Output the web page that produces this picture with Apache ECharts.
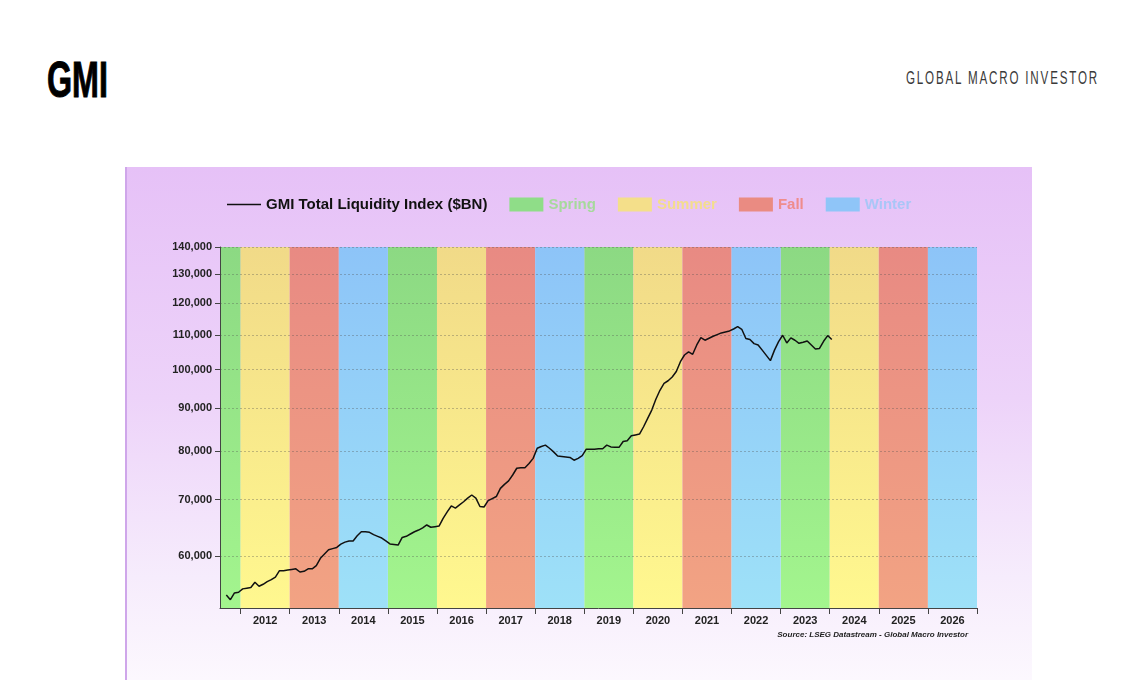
<!DOCTYPE html>
<html>
<head>
<meta charset="utf-8">
<script src="https://cdn.jsdelivr.net/npm/echarts@6/dist/echarts.min.js"></script>
<style>
  html, body { margin: 0; padding: 0; background: #ffffff; width: 1140px; height: 694px; overflow: hidden; }
  #panel { position: absolute; left: 125px; top: 167px; width: 907px; height: 513px;
    background: linear-gradient(to bottom, #e6c1f7 0%, #edd3f9 45%, #f6ecfc 80%, #fcf8fe 100%);
    border-left: 2px solid #cfa6ea; box-sizing: border-box; }
  #chart { position: absolute; left: 0; top: 0; width: 1140px; height: 694px; }
  #logo { position: absolute; left: 47px; top: 55px; font: bold 50px "Liberation Sans Narrow", "Liberation Sans", sans-serif;
    line-height: 50px; color: #000; -webkit-text-stroke: 1px #000; transform: scaleX(0.645); transform-origin: left top; white-space: nowrap; }
  #brand { position: absolute; left: 906px; top: 68px; font: 19px "Liberation Sans Narrow", "Liberation Sans", sans-serif;
    line-height: 19px; color: #3a3a3a; letter-spacing: 3px; transform: scaleX(0.61); transform-origin: left top; white-space: nowrap; }
</style>
</head>
<body>
<div id="panel"></div>
<div id="logo">GMI</div>
<div id="brand">GLOBAL MACRO INVESTOR</div>
<div id="chart"></div>
<script>
// ---- data ----
const dates = ['2011-09','2011-10','2011-11','2011-12',
'2012-01','2012-02','2012-03','2012-04','2012-05','2012-06','2012-07','2012-08','2012-09','2012-10','2012-11','2012-12',
'2013-01','2013-02','2013-03','2013-04','2013-05','2013-06','2013-07','2013-08','2013-09','2013-10','2013-11','2013-12',
'2014-01','2014-02','2014-03','2014-04','2014-05','2014-06','2014-07','2014-08','2014-09','2014-10','2014-11','2014-12',
'2015-01','2015-02','2015-03','2015-04','2015-05','2015-06','2015-07','2015-08','2015-09','2015-10','2015-11','2015-12',
'2016-01','2016-02','2016-03','2016-04','2016-05','2016-06','2016-07','2016-08','2016-09','2016-10','2016-11','2016-12',
'2017-01','2017-02','2017-03','2017-04','2017-05','2017-06','2017-07','2017-08','2017-09','2017-10','2017-11','2017-12',
'2018-01','2018-02','2018-03','2018-04','2018-05','2018-06','2018-07','2018-08','2018-09','2018-10','2018-11','2018-12',
'2019-01','2019-02','2019-03','2019-04','2019-05','2019-06','2019-07','2019-08','2019-09','2019-10','2019-11','2019-12',
'2020-01','2020-02','2020-03','2020-04','2020-05','2020-06','2020-07','2020-08','2020-09','2020-10','2020-11','2020-12',
'2021-01','2021-02','2021-03','2021-04','2021-05','2021-06','2021-07','2021-08','2021-09','2021-10','2021-11','2021-12',
'2022-01','2022-02','2022-03','2022-04','2022-05','2022-06','2022-07','2022-08','2022-09','2022-10','2022-11','2022-12',
'2023-01','2023-02','2023-03','2023-04','2023-05','2023-06','2023-07','2023-08','2023-09','2023-10','2023-11','2023-12',
'2024-01'];
const liquidity = [53900,53200,54200,54300,
54800,54900,55000,55800,55200,55500,55900,56200,56600,57600,57600,57700,
57800,57900,57400,57500,57900,57900,58400,59600,60300,61000,61200,61400,
61950,62300,62500,62500,63400,64100,64100,64000,63600,63300,63000,62500,
62000,61900,61800,63100,63300,63700,64100,64400,64800,65300,64900,65000,
65100,66500,67700,68800,68400,69000,69600,70300,70900,70300,68700,68600,
69800,70200,70600,72200,73000,73700,74900,76300,76400,76400,77300,78400,
80600,81000,81300,80600,79800,78900,78800,78700,78600,78000,78400,79000,
80400,80400,80400,80500,80500,81300,80900,80800,80800,82100,82300,83400,
83600,83800,85500,87500,89500,92200,94500,96300,97000,98000,99500,102200,
104100,105000,104300,107000,109200,108400,109000,109600,110100,110600,110900,111200,
111800,112500,111700,108900,108600,107400,107000,105500,104000,102500,105500,108000,
109900,107600,109100,108400,107500,107800,108200,107000,105800,106000,108100,109800,
108600];
const yTicks = [60000, 70000, 80000, 90000, 100000, 110000, 120000, 130000, 140000];
const yMin = 52000, yMax = 140000;
const xStart = 2011.58, xEnd = 2027;
const yearTicks = [2012,2013,2014,2015,2016,2017,2018,2019,2020,2021,2022,2023,2024,2025,2026,2027];
const yearLabels = [2012,2013,2014,2015,2016,2017,2018,2019,2020,2021,2022,2023,2024,2025,2026];
const springYears = [2011, 2015, 2019, 2023];
const summerYears = [2012, 2016, 2020, 2024];
const fallYears   = [2013, 2017, 2021, 2025];
const winterYears = [2014, 2018, 2022, 2026];

// ---- build ----
const lg = Math.log10;
const lineData = dates.map((d, i) => {
  const [y, m] = d.split('-').map(Number);
  return [y + (m - 0.5) / 12, lg(liquidity[i])];
});

function bandSeries(name, years, solid, top, bottom) {
  return {
    name: name, type: 'custom', z: 1, silent: true,
    itemStyle: { color: solid },
    data: years.map(y => [y, lg(yMin)]),
    encode: { x: 0, y: 1 },
    renderItem: function (params, api) {
      const cs = params.coordSys;
      const yr = api.value(0);
      let x1 = api.coord([yr, lg(yMin)])[0];
      let x2 = api.coord([yr + 1, lg(yMin)])[0];
      x1 = Math.max(x1, cs.x);
      x2 = Math.min(x2, cs.x + cs.width);
      if (x2 <= x1) return null;
      return {
        type: 'rect',
        shape: { x: x1, y: cs.y, width: x2 - x1, height: cs.height },
        style: { fill: new echarts.graphic.LinearGradient(0, 0, 0, 1, [
          { offset: 0, color: top }, { offset: 1, color: bottom }]) }
      };
    }
  };
}

const chart = echarts.init(document.getElementById('chart'), null, { renderer: 'canvas' });
const FONT = '"Liberation Sans", Arial, sans-serif';
chart.setOption({
  animation: false,
  backgroundColor: 'transparent',
  textStyle: { fontFamily: FONT },
  grid: { left: 220, right: 163, top: 247, bottom: 86, containLabel: false },
  legend: {
    left: 222, top: 192, itemWidth: 34, itemHeight: 14, itemGap: 22,
    textStyle: { fontFamily: FONT, fontSize: 15, fontWeight: 'bold', color: '#111' },
    data: [
      { name: 'GMI Total Liquidity Index ($BN)', icon: 'path://M0,0 H34 V1.3 H0 Z', textStyle: { color: '#111' } },
      { name: 'Spring', icon: 'rect', textStyle: { color: '#a6d99c' } },
      { name: 'Summer', icon: 'rect', textStyle: { color: '#f3dd8d' } },
      { name: 'Fall', icon: 'rect', textStyle: { color: '#ef8c8c' } },
      { name: 'Winter', icon: 'rect', textStyle: { color: '#a9c6f7' } }
    ]
  },
  xAxis: {
    type: 'value', min: xStart, max: xEnd, z: 2,
    axisLine: { show: true, lineStyle: { color: '#444', width: 1 } },
    axisTick: { show: true, length: 6, lineStyle: { color: '#444' }, customValues: yearTicks },
    axisLabel: { customValues: yearLabels.map(y => y + 0.5), formatter: v => String(Math.floor(v)),
      fontFamily: FONT, fontSize: 11, fontWeight: 'bold', color: '#222', margin: 7 },
    splitLine: { show: false }
  },
  yAxis: {
    type: 'value', min: lg(yMin), max: lg(yMax), z: 2,
    axisLine: { show: true, lineStyle: { color: '#444', width: 1 } },
    axisTick: { show: true, length: 5, lineStyle: { color: '#444' }, customValues: yTicks.map(lg) },
    axisLabel: { customValues: yTicks.map(lg),
      formatter: v => (Math.round(Math.pow(10, v) / 1000) * 1000).toLocaleString('en-US'),
      fontFamily: FONT, fontSize: 11, fontWeight: 'bold', color: '#222', margin: 8 },
    splitLine: { show: true, lineStyle: { color: 'rgba(80,80,80,0.35)', width: 1, type: [2, 2] } }
  },
  graphic: [{
    type: 'text', right: 1140 - 968, top: 631, z: 10,
    style: { text: 'Source: LSEG Datastream - Global Macro Investor', font: 'italic bold 8px ' + FONT, fill: '#222' }
  }],
  series: [
    bandSeries('Spring', springYears, '#8fdd88', '#8cd983', '#a3f58e'),
    bandSeries('Summer', summerYears, '#f4df8a', '#f1da88', '#fff88f'),
    bandSeries('Fall', fallYears, '#ea8b82', '#e88a83', '#f2a383'),
    bandSeries('Winter', winterYears, '#8fc5f8', '#8dc4f8', '#9ee1f8'),
    {
      name: 'GMI Total Liquidity Index ($BN)', type: 'line', z: 3,
      symbol: 'none', data: lineData, silent: true,
      lineStyle: { color: '#111', width: 1.5 }, itemStyle: { color: '#111' }
    }
  ]
});
</script>
</body>
</html>
